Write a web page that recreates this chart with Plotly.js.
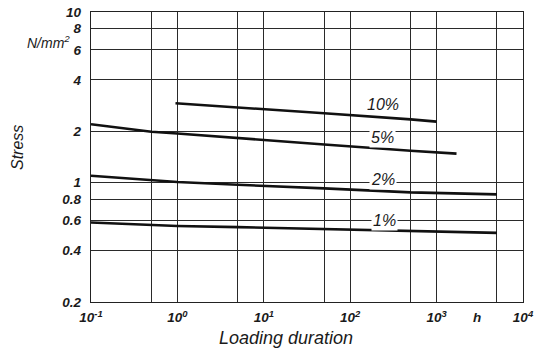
<!DOCTYPE html>
<html>
<head>
<meta charset="utf-8">
<script src="https://cdn.plot.ly/plotly-3.0.1.min.js"></script>
<style>html,body{margin:0;padding:0;background:#fff;}#chart{width:536px;height:351px;}</style>
</head>
<body>
<div id="chart"></div>
<script>
// Loading duration (h) and stress (N/mm2) for each strain curve
const seriesNames = ['10%', '5%', '2%', '1%'];
const x10 = [0.95, 5, 50, 500, 1000];
const y10 = [2.92, 2.77, 2.55, 2.35, 2.28];
const x5 = [0.1, 0.2, 0.3, 0.5, 1, 5, 50, 500, 1700];
const y5 = [2.20, 2.10, 2.04, 1.99, 1.94, 1.82, 1.675, 1.54, 1.48];
const x2 = [0.1, 0.5, 1, 5, 10, 50, 500, 5000];
const y2 = [1.098, 1.030, 1.009, 0.972, 0.959, 0.926, 0.877, 0.854];
const x1 = [0.1, 0.5, 1, 5, 50, 500, 5000];
const y1 = [0.585, 0.569, 0.558, 0.549, 0.535, 0.522, 0.508];

// label positions (data units) for the curve labels
const labelX = [240, 238, 241, 248];
const labelY = [2.86, 1.83, 1.04, 0.604];

const xTickVals = [0.1, 1, 10, 100, 1000, 10000];
const xTickText = ['10<sup>-1</sup>', '10<sup>0</sup>', '10<sup>1</sup>', '10<sup>2</sup>', '10<sup>3</sup>', '10<sup>4</sup>'];
const xMinorVals = [0.5, 5, 50, 500, 5000];
const yTickVals = [0.2, 0.4, 0.6, 0.8, 1, 2, 4, 6, 8, 10];
const yTickText = ['0.2', '0.4', '0.6', '0.8', '1', '2', '4', '6', '8', '10'];

const xs = [x10, x5, x2, x1];
const ys = [y10, y5, y2, y1];

const FONT = 'Liberation Sans, Arial, Helvetica, sans-serif';
const lineStyle = {color: '#111', width: 2.6};

const traces = seriesNames.map((n, i) => ({
  type: 'scatter', mode: 'lines', name: n,
  x: xs[i], y: ys[i], line: lineStyle, hoverinfo: 'skip'
}));

const annotations = seriesNames.map((n, i) => ({
  x: Math.log10(labelX[i]), y: Math.log10(labelY[i]), xref: 'x', yref: 'y',
  text: n, showarrow: false, bgcolor: i === 0 ? 'rgba(0,0,0,0)' : '#fff', borderpad: 1,
  font: {family: FONT, size: 16, style: 'italic', color: '#1a1a1a'}
}));
annotations.push(
  {x: 286, y: 338, text: 'Loading duration', showarrow: false,
   font: {family: FONT, size: 18, style: 'italic', color: '#1a1a1a'}},
  {x: 17, y: 148, text: 'Stress', showarrow: false, textangle: -90,
   font: {family: FONT, size: 16, style: 'italic', color: '#1a1a1a'}},
  {x: 48, y: 42, text: 'N/mm<sup>2</sup>', showarrow: false,
   font: {family: FONT, size: 14, style: 'italic', color: '#1a1a1a'}},
  {x: 477, y: 317, text: 'h', showarrow: false,
   font: {family: FONT, size: 13.5, style: 'italic', weight: 'bold', color: '#1a1a1a'}}
);
// convert pixel-positioned text annotations to paper coords
const W = 536, H = 351, M = {l: 91, r: 13, t: 12, b: 49};
const pw = W - M.l - M.r, ph = H - M.t - M.b;
for (let i = seriesNames.length; i < annotations.length; i++) {
  const a = annotations[i];
  a.xref = 'paper'; a.yref = 'paper';
  a.x = (a.x - M.l) / pw; a.y = 1 - (a.y - M.t) / ph;
  a.xanchor = 'center'; a.yanchor = 'middle';
}

const tickFont = {family: FONT, size: 13.5, style: 'italic', weight: 'bold', color: '#1a1a1a'};

const layout = {
  width: W, height: H,
  margin: M,
  paper_bgcolor: '#fff', plot_bgcolor: '#fff',
  showlegend: false,
  xaxis: {
    type: 'log', range: [-1, 4], tickmode: 'array', tickvals: xTickVals, ticktext: xTickText,
    showgrid: true, gridcolor: '#2a2a2a', gridwidth: 1, zeroline: false,
    minor: {tickmode: 'array', tickvals: xMinorVals, showgrid: true, gridcolor: '#2a2a2a', gridwidth: 1, ticks: ''},
    showline: true, linecolor: '#222', linewidth: 1.2, mirror: true,
    ticks: 'outside', ticklen: 3, tickcolor: 'rgba(0,0,0,0)', tickfont: tickFont,
    fixedrange: true
  },
  yaxis: {
    type: 'log', range: [Math.log10(0.2), 1], tickmode: 'array', tickvals: yTickVals, ticktext: yTickText,
    showgrid: true, gridcolor: '#2a2a2a', gridwidth: 1, zeroline: false,
    showline: true, linecolor: '#222', linewidth: 1.2, mirror: true,
    ticks: 'outside', ticklen: 6, tickcolor: 'rgba(0,0,0,0)', tickfont: tickFont,
    fixedrange: true
  },
  annotations: annotations
};

Plotly.newPlot('chart', traces, layout, {staticPlot: true, displayModeBar: false});
</script>
</body>
</html>
